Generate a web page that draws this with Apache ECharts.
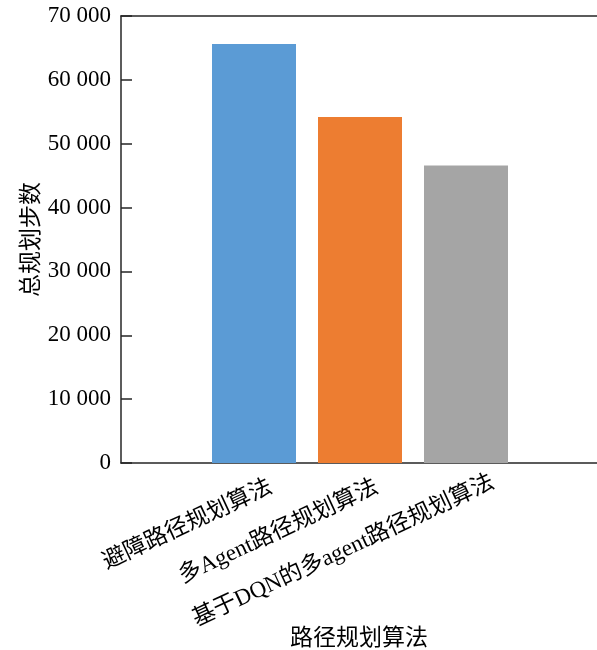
<!DOCTYPE html>
<html>
<head>
<meta charset="utf-8">
<script src="https://cdn.jsdelivr.net/npm/echarts@6/dist/echarts.min.js"></script>
<style>
  html, body { margin: 0; padding: 0; background: #fff; }
  #main { width: 597px; height: 650px; }
</style>
</head>
<body>
<div id="main"></div>
<script>
// 数据
var categories = ["避障路径规划算法", "多Agent路径规划算法", "基于DQN的多agent路径规划算法"];
var steps = [65600, 54200, 46600];
var barColors = ["#5B9BD5", "#ED7D31", "#A5A5A5"];
var yTicks = [0, 10000, 20000, 30000, 40000, 50000, 60000, 70000];

var FONT = "'Liberation Serif', 'Noto Sans CJK SC', serif";
var lineColor = "#262626";

function fmt(v) {
  return String(v).replace(/\B(?=(\d{3})+(?!\d))/g, " ");
}

var myChart = echarts.init(document.getElementById("main"));
myChart.setOption({
  animation: false,
  grid: [
    // 外框：坐标轴、刻度
    { left: 121, right: 0, top: 16, bottom: 187, outerBoundsMode: "none" },
    // 柱子所在区域
    { left: 201, width: 318, top: 16, bottom: 187, outerBoundsMode: "none" },
    // 类目标签（稍微右移）
    { left: 218, width: 318, top: 16, bottom: 187, outerBoundsMode: "none" }
  ],
  xAxis: [
    {
      gridIndex: 0, type: "value", position: "bottom", min: 0, max: 1,
      axisLine: { show: true, lineStyle: { color: lineColor, width: 1.5 } },
      axisTick: { show: false }, axisLabel: { show: false }, splitLine: { show: false },
      name: "路径规划算法", nameLocation: "middle", nameGap: 164,
      nameTextStyle: { fontFamily: FONT, fontSize: 23, color: "#000" }
    },
    {
      gridIndex: 0, type: "value", position: "top", min: 0, max: 1,
      axisLine: { show: true, lineStyle: { color: lineColor, width: 1.5 } },
      axisTick: { show: false }, axisLabel: { show: false }, splitLine: { show: false }
    },
    {
      gridIndex: 1, type: "category", data: categories,
      axisLine: { show: false }, axisTick: { show: false }, axisLabel: { show: false }
    },
    {
      gridIndex: 2, type: "category",
      data: categories.map(function (c, i) {
        // 最长的标签在原图中略靠右、靠下
        return i === 2 ? { value: c, textStyle: { padding: [0, -11, -12, 0] } } : c;
      }),
      axisLine: { show: false }, axisTick: { show: false },
      axisLabel: { rotate: 25, margin: 23, interval: 0, fontFamily: FONT, fontSize: 23, color: "#000" }
    }
  ],
  yAxis: [
    {
      gridIndex: 0, type: "value", min: 0, max: 70000, interval: 10000,
      axisLine: { show: true, lineStyle: { color: lineColor, width: 1.5 } },
      axisTick: { show: true, inside: true, length: 11, lineStyle: { color: lineColor, width: 1.5 } },
      splitLine: { show: false },
      axisLabel: { margin: 10, fontFamily: FONT, fontSize: 23, color: "#000", formatter: fmt },
      name: "总规划步数", nameLocation: "middle", nameGap: 78, nameMoveOverlap: false,
      nameTextStyle: { fontFamily: FONT, fontSize: 23, color: "#000" }
    },
    { gridIndex: 1, type: "value", min: 0, max: 70000, show: false },
    { gridIndex: 2, type: "value", min: 0, max: 70000, show: false }
  ],
  series: [
    {
      type: "bar",
      xAxisIndex: 2, yAxisIndex: 1,
      barWidth: 84,
      data: steps.map(function (v, i) {
        return { value: v, itemStyle: { color: barColors[i] } };
      })
    }
  ]
});
</script>
</body>
</html>
